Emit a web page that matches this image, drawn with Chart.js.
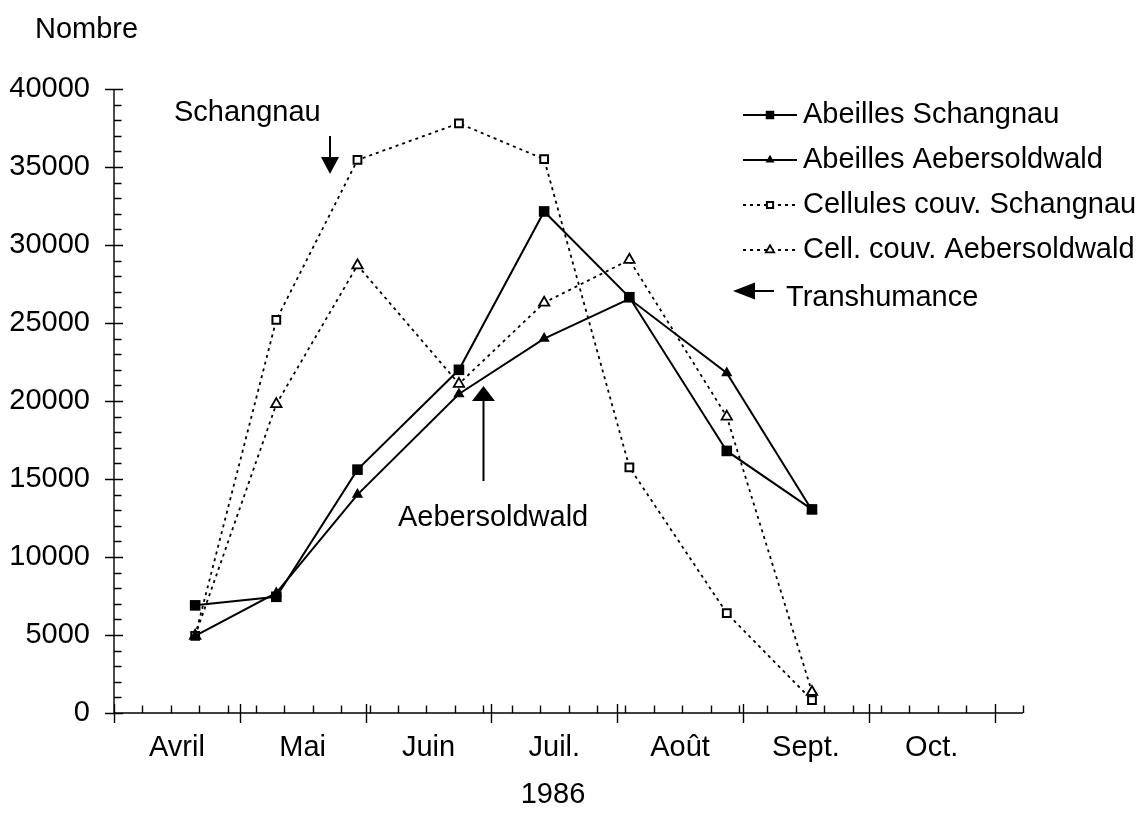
<!DOCTYPE html>
<html><head><meta charset="utf-8">
<script src="https://cdn.jsdelivr.net/npm/chart.js@4.4.0/dist/chart.umd.min.js"></script>
<style>html,body{margin:0;padding:0;background:#fff}#wrap{width:1147px;height:821px}</style>
</head><body><div id="wrap"><canvas id="c" width="1147" height="821"></canvas></div>
<script>
// ---- data ----
const monthLabels = ['Avril', 'Mai', 'Juin', 'Juil.', 'Août', 'Sept.', 'Oct.'];
const monthStartDays = [0, 31, 62, 93, 124, 155, 186, 217];
const sampleDays = [20, 40, 60, 85, 106, 127, 151, 172];
const abeillesSchangnau = [6900, 7450, 15600, 22000, 32150, 26650, 16800, 13050];
const abeillesAebersoldwald = [4950, 7700, 14000, 20450, 24000, 26550, 21800, 13000];
const cellulesSchangnau = [4950, 25200, 35450, 37800, 35500, 15750, 6400, 830];
const cellulesAebersoldwald = [4950, 19800, 28700, 21100, 26300, 29050, 19000, 1350];
const seriesNames = ['Abeilles Schangnau', 'Abeilles Aebersoldwald', 'Cellules couv. Schangnau', 'Cell. couv. Aebersoldwald'];
const yTickValues = [0, 5000, 10000, 15000, 20000, 25000, 30000, 35000, 40000];
const yMinorStep = 1000;
const xMinorStep = 7;
const xMax = 224;

const FONT = "'Liberation Sans', Arial, sans-serif";
const FS = 29;

function pts(vals) { return sampleDays.map((d, i) => ({ x: d, y: vals[i] })); }

const dashed = [3, 4];
const datasets = [
  { label: seriesNames[0], data: pts(abeillesSchangnau), borderColor: '#000', borderWidth: 2,
    pointStyle: 'rect', pointRadius: 7.5, pointBackgroundColor: '#000', pointBorderColor: '#000', pointBorderWidth: 0 },
  { label: seriesNames[1], data: pts(abeillesAebersoldwald), borderColor: '#000', borderWidth: 2,
    pointStyle: 'triangle', pointRadius: 6.5, pointBackgroundColor: '#000', pointBorderColor: '#000', pointBorderWidth: 0 },
  { label: seriesNames[2], data: pts(cellulesSchangnau), borderColor: '#000', borderWidth: 1.8, borderDash: dashed,
    pointStyle: 'rect', pointRadius: 5.5, pointBackgroundColor: '#fff', pointBorderColor: '#000', pointBorderWidth: 2 },
  { label: seriesNames[3], data: pts(cellulesAebersoldwald), borderColor: '#000', borderWidth: 1.8, borderDash: dashed,
    pointStyle: 'triangle', pointRadius: 6, pointBackgroundColor: '#fff', pointBorderColor: '#000', pointBorderWidth: 1.8 }
];

function tri(ctx, p) { ctx.beginPath(); ctx.moveTo(p[0][0], p[0][1]); ctx.lineTo(p[1][0], p[1][1]); ctx.lineTo(p[2][0], p[2][1]); ctx.closePath(); ctx.fill(); }

const axesPlugin = {
  id: 'axesPlugin',
  beforeDatasetsDraw(chart) {
    const ctx = chart.ctx, xs = chart.scales.x, ys = chart.scales.y;
    const a = chart.chartArea;
    ctx.save();
    ctx.strokeStyle = '#000'; ctx.lineWidth = 1.4; ctx.setLineDash([]);
    ctx.beginPath();
    ctx.moveTo(a.left, ys.getPixelForValue(40000)); ctx.lineTo(a.left, a.bottom);
    ctx.moveTo(a.left, a.bottom); ctx.lineTo(xs.getPixelForValue(xMax), a.bottom);
    for (let v = 0; v <= 40000; v += yMinorStep) {
      const y = Math.round(ys.getPixelForValue(v)) + 0.5;
      if (v % 5000 === 0) { ctx.moveTo(a.left - 9, y); ctx.lineTo(a.left + 9, y); }
      else { ctx.moveTo(a.left, y); ctx.lineTo(a.left + 7.5, y); }
    }
    for (let d = xMinorStep; d <= xMax; d += xMinorStep) {
      const x = Math.round(xs.getPixelForValue(d)) + 0.5;
      ctx.moveTo(x, a.bottom); ctx.lineTo(x, a.bottom - 7.5);
    }
    monthStartDays.forEach(d => {
      const x = Math.round(xs.getPixelForValue(d)) + 0.5;
      ctx.moveTo(x, a.bottom - 9); ctx.lineTo(x, a.bottom + 10);
    });
    ctx.stroke();
    ctx.restore();
  },
  afterDraw(chart) {
    const ctx = chart.ctx;
    ctx.save();
    ctx.fillStyle = '#000'; ctx.strokeStyle = '#000';
    ctx.font = FS + 'px ' + FONT;
    ctx.textBaseline = 'middle'; ctx.textAlign = 'left';
    ctx.fillText('Nombre', 35, 30);
    ctx.fillText('Schangnau', 174, 113);
    ctx.fillText('Aebersoldwald', 398, 518);
    ctx.fillText('Transhumance', 786, 298);
    ctx.textAlign = 'center';
    ctx.fillText('1986', 553, 795);

    ctx.lineWidth = 2; ctx.setLineDash([]);
    ctx.beginPath();
    ctx.moveTo(330, 136); ctx.lineTo(330, 160);
    ctx.moveTo(483.5, 398); ctx.lineTo(483.5, 481);
    ctx.moveTo(752, 291); ctx.lineTo(774, 291);
    ctx.stroke();
    tri(ctx, [[321, 157], [339, 157], [330, 174]]);
    tri(ctx, [[472, 401], [495, 401], [483.5, 386]]);
    tri(ctx, [[755, 282.5], [755, 299.5], [733, 291]]);

    const rowsY = [115, 160, 205, 250];
    ctx.textAlign = 'left';
    rowsY.forEach((y, i) => {
      const ds = datasets[i];
      ctx.strokeStyle = '#000';
      ctx.lineWidth = ds.borderWidth;
      ctx.setLineDash(ds.borderDash || []);
      ctx.beginPath(); ctx.moveTo(743, y); ctx.lineTo(797, y); ctx.stroke();
      ctx.setLineDash([]);
      ctx.fillStyle = ds.pointBackgroundColor;
      ctx.lineWidth = ds.pointBorderWidth;
      Chart.helpers.drawPoint(ctx, {
        pointStyle: ds.pointStyle, radius: ds.pointRadius * 0.8, borderWidth: ds.pointBorderWidth, rotation: 0
      }, 770, y);
      ctx.fillStyle = '#000';
      ctx.fillText(seriesNames[i], 803, y);
    });
    ctx.restore();
  }
};

new Chart(document.getElementById('c'), {
  type: 'line',
  data: { datasets },
  options: {
    responsive: false, animation: false, devicePixelRatio: 1,
    layout: { padding: { top: 89, right: 124, left: 0, bottom: 0 } },
    plugins: { legend: { display: false }, tooltip: { enabled: false } },
    scales: {
      x: {
        type: 'linear', min: 0, max: xMax,
        grid: { display: false, drawTicks: false }, border: { display: false },
        afterFit(s) { s.height = 108; },
        afterBuildTicks(s) { s.ticks = monthLabels.map((m, i) => ({ value: monthStartDays[i] + 15.5 })); },
        ticks: { autoSkip: false, maxRotation: 0, padding: 18, color: '#000', font: { family: FONT, size: FS },
          callback: (v, i) => monthLabels[i] }
      },
      y: {
        type: 'linear', min: 0, max: 40000,
        grid: { display: false, drawTicks: false }, border: { display: false },
        afterFit(s) { s.width = 114; },
        afterBuildTicks(s) { s.ticks = yTickValues.map(v => ({ value: v })); },
        ticks: { padding: 24, color: '#000', font: { family: FONT, size: FS }, callback: v => String(v) }
      }
    }
  },
  plugins: [axesPlugin]
});
</script></body></html>
